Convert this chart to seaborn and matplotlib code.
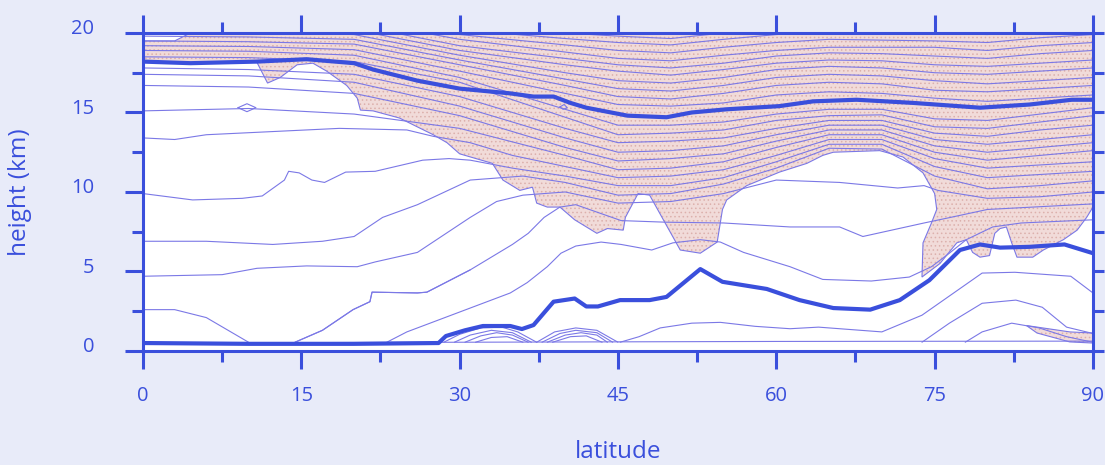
import matplotlib
matplotlib.use("Agg")
import matplotlib.pyplot as plt
import matplotlib.transforms as mtransforms
from matplotlib.ticker import MultipleLocator
import pandas as pd
import seaborn as sns

# ---- data (latitude in deg, height in km) ----
lat_grid = [0, 10, 20, 30, 40, 45, 50, 55, 60, 65, 70, 75, 80, 85, 90]

# upper isentropes, heights on lat_grid (values above 20 run off the top)
upper_lines = {
    "G": [15.1, 15.25, 14.9, 14.0, 12.3, 11.4, 11.5, 11.9, 12.8, 13.6, 13.6, 12.5, 12.0, 12.3, 12.6],
    "H": [16.7, 16.6, 16.2, 14.8, 12.8, 11.95, 12.1, 12.4, 13.2, 13.9, 13.9, 12.9, 12.5, 12.8, 13.1],
    "I": [17.4, 17.3, 16.9, 15.4, 13.4, 12.5, 12.6, 12.9, 13.6, 14.2, 14.2, 13.3, 13.0, 13.3, 13.6],
    "J": [17.8, 17.7, 17.4, 16.0, 14.0, 13.1, 13.2, 13.4, 14.0, 14.5, 14.5, 13.7, 13.5, 13.9, 14.2],
    "K": [18.5, 18.45, 18.2, 16.9, 14.7, 13.6, 13.7, 13.9, 14.5, 14.8, 14.85, 14.1, 14.0, 14.4, 14.8],
    "L": [18.9, 18.85, 18.6, 17.2, 15.2, 14.2, 14.2, 14.4, 14.9, 15.2, 15.2, 14.6, 14.5, 14.9, 15.3],
    "M": [19.2, 19.15, 18.95, 17.6, 16.2, 15.5, 15.4, 15.6, 16.1, 16.3, 16.2, 15.9, 15.7, 15.9, 16.1],
    "N": [19.5, 19.45, 19.3, 18.0, 16.7, 16.0, 15.85, 16.2, 16.7, 16.9, 16.8, 16.4, 16.3, 16.5, 16.7],
    "O": [19.8, 19.75, 19.6, 18.3, 17.1, 16.5, 16.35, 16.7, 17.2, 17.4, 17.3, 17.0, 16.8, 17.0, 17.2],
    "P": [20.1, 20.05, 19.9, 18.6, 17.5, 17.0, 16.85, 17.2, 17.7, 17.9, 17.8, 17.5, 17.4, 17.6, 17.8],
    "Q": [20.4, 20.35, 20.2, 18.9, 18.0, 17.6, 17.35, 17.7, 18.1, 18.3, 18.25, 18.0, 17.9, 18.1, 18.3],
    "R": [20.7, 20.6, 20.5, 19.2, 18.4, 18.0, 17.8, 18.1, 18.55, 18.75, 18.7, 18.55, 18.4, 18.7, 18.9],
    "S": [21.0, 20.9, 20.8, 19.6, 18.8, 18.4, 18.25, 18.6, 18.9, 19.1, 19.1, 19.1, 18.9, 19.2, 19.4],
    "T": [21.3, 21.2, 21.1, 19.9, 19.25, 18.9, 18.75, 19.1, 19.4, 19.6, 19.55, 19.5, 19.4, 19.7, 19.9],
    "U": [21.6, 21.5, 21.4, 20.2, 19.65, 19.4, 19.25, 19.6, 19.9, 20.1, 20.0, 20.0, 19.9, 20.2, 20.4],
    "V": [21.9, 21.8, 21.7, 20.5, 20.0, 19.8, 19.65, 20.0, 20.4, 20.6, 20.5, 20.5, 20.4, 20.7, 20.9],
}

# lower isentropes, traced point by point
lower_lines = {
    "A": ([23.1, 25, 27.2, 30, 34.8, 36.4, 38.3, 39.6, 41, 43.4, 45.3, 48.2, 50.2, 52.8, 54.7, 56.9,
           61.3, 64.4, 69, 72.6, 74.7, 76.3, 78, 80.5, 83.2, 90],
          [0.55, 1.2, 1.75, 2.45, 3.65, 4.3, 5.3, 6.15, 6.6, 6.85, 6.7, 6.35, 6.8, 7.0, 6.85, 6.2,
           5.3, 4.5, 4.4, 4.65, 5.3, 6.1, 7.0, 7.8, 8.05, 8.25]),
    "B": ([14.4, 17, 19.9, 21.5, 21.7, 26, 26.9, 31, 35, 36.5, 38, 39.5, 41, 45.3, 49.5, 55,
           61.3, 66, 68.2, 74, 76.5, 80, 90],
          [0.55, 1.3, 2.6, 3.1, 3.7, 3.65, 3.7, 5.1, 6.7, 7.4, 8.4, 9.05, 9.2, 8.2, 8.1, 8.05,
           7.8, 7.8, 7.2, 8.05, 8.4, 8.9, 9.25]),
    "C": ([0, 7.5, 10.8, 15.5, 20.3, 22, 26, 31, 33.5, 36, 40, 45, 50, 55, 60, 66, 71.5, 74,
           75.3, 80, 85, 90],
          [4.7, 4.8, 5.2, 5.35, 5.3, 5.6, 6.2, 8.4, 9.4, 9.8, 10.0, 9.3, 9.4, 9.9, 10.75, 10.6,
           10.25, 10.4, 10.1, 9.6, 9.7, 10.0]),
    "D": ([0, 6, 12.3, 17, 20, 22.7, 26, 31, 36, 40, 45, 50, 55, 60, 65, 70, 75, 80, 85, 90],
          [6.9, 6.9, 6.7, 6.9, 7.2, 8.4, 9.2, 10.75, 11.0, 10.6, 9.8, 9.9, 10.5, 11.5, 12.75,
           12.7, 11.0, 10.2, 10.4, 10.7]),
    "E": ([0, 4.7, 9.4, 11.3, 13.4, 13.8, 14.8, 16, 17.2, 19.2, 22, 26.5, 29, 31, 35, 40, 45,
           50, 55, 60, 65, 70, 75, 80, 85, 90],
          [9.9, 9.5, 9.6, 9.75, 10.75, 11.3, 11.2, 10.75, 10.6, 11.25, 11.3, 12.0, 12.1, 12.0,
           11.5, 11.0, 10.4, 10.4, 10.9, 11.9, 13.0, 13.0, 11.6, 10.9, 11.1, 11.3]),
    "F": ([0, 3, 6, 12.3, 18.6, 25, 27.5, 31, 35, 40, 45, 50, 55, 60, 65, 70, 75, 80, 85, 90],
          [13.4, 13.3, 13.6, 13.8, 14.0, 13.9, 13.5, 13.1, 12.3, 11.6, 10.9, 11.0, 11.4, 12.3,
           13.3, 13.3, 12.1, 11.5, 11.7, 11.9]),
    "surface": ([0, 30, 60, 90], [0.5, 0.55, 0.6, 0.62]),
    "T1": ([0, 3, 6, 10], [2.6, 2.6, 2.1, 0.55]),
    "T2": ([14.4, 17, 19.9, 21.5, 21.7, 26, 26.9, 31], [0.55, 1.3, 2.6, 3.1, 3.7, 3.65, 3.7, 5.1]),
    "low1": ([45.2, 47, 49, 52, 54.7, 58, 61.3, 64, 70, 73.8, 79.5, 82.6, 87.9, 90],
             [0.55, 0.9, 1.45, 1.75, 1.8, 1.55, 1.4, 1.5, 1.2, 2.25, 4.9, 4.95, 4.7, 3.65]),
    "low2": ([73.8, 76.4, 79.5, 82.7, 85.2, 87.5, 90], [0.55, 1.75, 3.0, 3.2, 2.75, 1.5, 1.1]),
    "low3": ([77.9, 79.5, 82.3, 84.9, 87.5, 90], [0.55, 1.2, 1.75, 1.45, 0.9, 0.55]),
    "arc1a": ([28.5, 30, 32, 34, 35.5, 37.3], [0.55, 1.05, 1.45, 1.5, 1.2, 0.55]),
    "arc1b": ([29.5, 31, 33, 35, 36.8], [0.55, 1.0, 1.3, 1.15, 0.55]),
    "arc1c": ([30.5, 32, 33.5, 35, 36.5], [0.55, 0.95, 1.15, 1.0, 0.55]),
    "arc1d": ([31.5, 33, 34.5, 36], [0.55, 0.85, 0.9, 0.55]),
    "arc2a": ([37.3, 39, 41, 43, 45], [0.55, 1.2, 1.45, 1.3, 0.55]),
    "arc2b": ([37.8, 39.5, 41, 43, 44.5], [0.55, 1.1, 1.3, 1.15, 0.55]),
    "arc2c": ([38.3, 40, 41.5, 43, 44], [0.55, 1.0, 1.15, 1.0, 0.55]),
    "arc2d": ([38.8, 40.5, 42, 43.5], [0.55, 0.9, 0.95, 0.55]),
    "diamond": ([9.0, 9.85, 10.7, 9.85, 9.0], [15.3, 15.55, 15.3, 15.05, 15.3]),
    "loop": ([39.5, 39.9, 40.2, 39.8, 39.5], [15.35, 15.5, 15.3, 15.2, 15.35]),
}

# thick lines
tropopause_lat = [0, 4.5, 10.8, 15.5, 20, 21.8, 26, 30, 34.8, 37, 38.9, 40.5, 42, 45.9, 49.6,
                  52, 55.3, 60.3, 63.5, 67.6, 73, 79.3, 84, 88, 90]
tropopause_h = [18.2, 18.1, 18.2, 18.35, 18.1, 17.7, 17.0, 16.5, 16.2, 16.0, 16.0, 15.6, 15.3,
                14.8, 14.7, 15.0, 15.2, 15.4, 15.7, 15.8, 15.6, 15.3, 15.5, 15.8, 15.8]
boundary_lat = [0, 10, 20, 28, 28.7, 30.5, 32.2, 34.8, 35.9, 37, 38.9, 40.9, 42, 43.1, 45.2, 48,
                49.6, 52.8, 54.9, 59.1, 62.2, 65.4, 68.9, 71.7, 74.5, 77.4, 79.3, 81.2, 84,
                87.3, 90]
boundary_h = [0.5, 0.45, 0.45, 0.5, 0.94, 1.3, 1.57, 1.57, 1.38, 1.63, 3.1, 3.3, 2.8, 2.8, 3.2,
              3.2, 3.4, 5.15, 4.35, 3.9, 3.2, 2.7, 2.6, 3.2, 4.45, 6.35, 6.7, 6.5, 6.55, 6.7, 6.15]

# shaded (stratospheric) region outline
shade_lat = [4.5, 4.2, 3, 0, 0, 4.5, 10.8, 11.8, 13.0, 14.6, 16.1, 17.4, 19.3, 20.3, 20.6, 21.8,
             24.3, 27.5, 28.8, 30, 33.1, 34.1, 35.7, 36.9, 37.3, 38.3, 39.5, 40.9, 43.0, 44,
             45.5, 45.7, 46.9, 48, 49.3, 50.9, 52.8, 54.4, 54.9, 55.3, 57.2, 60.3, 62.9, 64.4,
             65.4, 69.8, 72, 73.9, 75, 75.2, 74.7, 73.9, 73.8, 75.5, 77.1, 78, 78.6, 79.3, 80.2,
             80.7, 81.2, 81.8, 82.3, 82.8, 84.3, 85.3, 87.2, 88.5, 89.4, 90, 90]
shade_h = [20, 19.9, 19.5, 19.5, 18.2, 18.1, 18.15, 16.85, 17.2, 18.0, 18.1, 17.6, 16.7, 15.9,
           15.15, 15.1, 14.65, 13.6, 13.1, 12.4, 11.8, 10.75, 10.1, 10.3, 9.3, 9.05, 9.05, 8.25,
           7.4, 7.7, 7.6, 8.4, 9.9, 9.8, 8.25, 6.35, 6.15, 6.85, 8.9, 9.5, 10.4, 11.25, 11.8,
           12.3, 12.5, 12.6, 12.2, 11.2, 9.9, 8.9, 8.05, 6.8, 4.65, 5.5, 6.8, 7.0, 6.2, 5.9, 6.0,
           7.4, 7.7, 7.8, 6.8, 5.9, 5.9, 6.35, 7.0, 7.6, 8.4, 9.05, 20]
wedge_lat = [83.7, 87.8, 90, 90, 87.8, 84.7, 83.7]
wedge_h = [1.6, 1.2, 1.13, 0.5, 0.57, 1.13, 1.6]

x_ticks = [0, 15, 30, 45, 60, 75, 90]
y_ticks = [0, 5, 10, 15, 20]

# ---- style ----
axis_blue = "#3a4fdc"
thin_blue = "#7b78e6"
shade_fill = "#f1dbd9"
shade_dots = "#dcb0ac"
page = "#e8ebf9"

sns.set_theme(style="white")
plt.rcParams["font.family"] = ["Open Sans", "DejaVu Sans"]
plt.rcParams["hatch.linewidth"] = 0.6

rows = []
for name, hs in upper_lines.items():
    for la, h in zip(lat_grid, hs):
        rows.append((name, la, h))
for name, (las, hs) in lower_lines.items():
    for la, h in zip(las, hs):
        rows.append((name, la, h))
thin = pd.DataFrame(rows, columns=["line", "lat", "height"])
thick = pd.concat([
    pd.DataFrame({"line": "tropopause", "lat": tropopause_lat, "height": tropopause_h}),
    pd.DataFrame({"line": "boundary", "lat": boundary_lat, "height": boundary_h}),
])

fig = plt.figure(figsize=(11.05, 4.65), dpi=100, facecolor=page)
ax = fig.add_axes([0.1294, 0.2452, 0.8597, 0.6839])
ax.set_facecolor("white")

for las, hs in [(shade_lat, shade_h), (wedge_lat, wedge_h)]:
    ax.fill(las, hs, facecolor=shade_fill, edgecolor="none", zorder=1)
    ax.fill(las, hs, facecolor="none", edgecolor=shade_dots, hatch="....", lw=0, zorder=1.1)
    ax.fill(las, hs, facecolor="none", edgecolor=thin_blue, lw=0.8, zorder=1.2)

sns.lineplot(data=thin, x="lat", y="height", units="line", estimator=None, sort=False,
             color=thin_blue, lw=0.8, ax=ax, legend=False, zorder=2)
sns.lineplot(data=thick, x="lat", y="height", units="line", estimator=None, sort=False,
             color=axis_blue, lw=3.0, ax=ax, legend=False, zorder=3)

ax.set_xlim(0, 90)
ax.set_ylim(0, 20)
ax.xaxis.set_major_locator(MultipleLocator(15))
ax.xaxis.set_minor_locator(MultipleLocator(7.5))
ax.yaxis.set_major_locator(MultipleLocator(5))
ax.yaxis.set_minor_locator(MultipleLocator(2.5))
ax.set_xticks(x_ticks)
ax.set_yticks(y_ticks)

for s in ax.spines.values():
    s.set_color(axis_blue)
    s.set_linewidth(2.2)

ax.tick_params(which="both", direction="out", width=2.2, color=axis_blue,
               bottom=True, top=True, left=True, right=True,
               labelcolor=axis_blue, labelsize=14.5)
ax.tick_params(which="major", length=13)
ax.tick_params(which="minor", length=8)
ax.tick_params(axis="x", pad=12)
ax.tick_params(axis="y", pad=22)
for t in ax.yaxis.get_major_ticks():
    t.tick2line.set_markersize(8)

shift = mtransforms.ScaledTranslation(0, 4.5 / 72, fig.dpi_scale_trans)
for lab in ax.get_yticklabels():
    lab.set_transform(lab.get_transform() + shift)

ax.set_xlabel("latitude", fontsize=17.5, color=axis_blue)
ax.set_ylabel("height (km)", fontsize=17.5, color=axis_blue)
ax.xaxis.set_label_coords(0.5, -0.28)
ax.yaxis.set_label_coords(-0.117, 0.5)

fig.savefig("out.png", dpi=100, facecolor=page)
